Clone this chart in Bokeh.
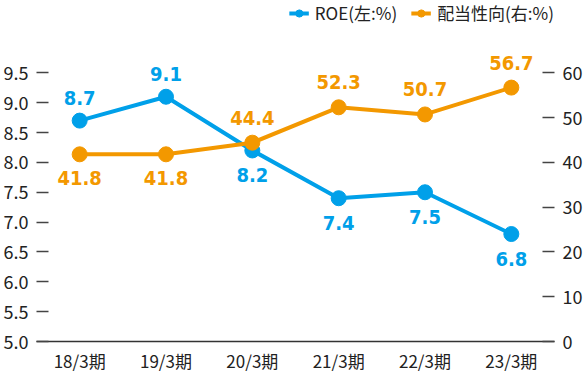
from bokeh.plotting import figure
from bokeh.models import (FactorRange, Range1d, LinearAxis, FixedTicker, Legend,
                          LegendItem, ColumnDataSource, NumeralTickFormatter)
from bokeh.core.properties import value
from bokeh.embed import file_html
from bokeh.resources import INLINE

categories = ["18/3期", "19/3期", "20/3期", "21/3期", "22/3期", "23/3期"]
roe = [8.7, 9.1, 8.2, 7.4, 7.5, 6.8]
payout = [41.8, 41.8, 44.4, 52.3, 50.7, 56.7]
roe_ticks = [5.0, 5.5, 6.0, 6.5, 7.0, 7.5, 8.0, 8.5, 9.0, 9.5]
payout_ticks = [0, 10, 20, 30, 40, 50, 60]
roe_name = "ROE(左:%)"
payout_name = "配当性向(右:%)"

BLUE = "#00a0e9"
ORANGE = "#f39800"
FONT = "Noto Sans CJK JP"
LABEL_FONT = "DejaVu Sans Condensed"

ROE_RANGE = (5.0, 10.712)
PAY_RANGE = (0.0, 76.15)

p = figure(width=585, height=375,
           x_range=FactorRange(*categories, range_padding=0),
           y_range=Range1d(*ROE_RANGE),
           output_backend="svg", toolbar_location=None,
           min_border_left=35, min_border_right=30,
           min_border_top=0, min_border_bottom=34)
p.outline_line_color = None
p.grid.visible = False
p.background_fill_color = "white"
p.extra_y_ranges = {"payout": Range1d(*PAY_RANGE)}

# label placement: the series whose point is higher on screen gets its label above
roe_frac = [(v - ROE_RANGE[0]) / (ROE_RANGE[1] - ROE_RANGE[0]) for v in roe]
pay_frac = [(v - PAY_RANGE[0]) / (PAY_RANGE[1] - PAY_RANGE[0]) for v in payout]
roe_off = [-23 if r > q else 25 for r, q in zip(roe_frac, pay_frac)]
pay_off = [-25 if q >= r else 24 for r, q in zip(roe_frac, pay_frac)]

src = ColumnDataSource(dict(
    x=categories, roe=roe, payout=payout,
    roe_text=[f"{v:.1f}" for v in roe],
    pay_text=[f"{v:.1f}" for v in payout],
    roe_off=roe_off, pay_off=pay_off,
))

l1 = p.line(x="x", y="roe", source=src, line_color=BLUE, line_width=4)
s1 = p.scatter(x="x", y="roe", source=src, size=15, fill_color=BLUE, line_color=BLUE)
l2 = p.line(x="x", y="payout", source=src, line_color=ORANGE, line_width=4,
            y_range_name="payout")
s2 = p.scatter(x="x", y="payout", source=src, size=15, fill_color=ORANGE,
               line_color=ORANGE, y_range_name="payout")

p.text(x="x", y="roe", text="roe_text", source=src, y_offset="roe_off",
       text_align="center", text_baseline="middle",
       text_font=value(LABEL_FONT), text_font_style="bold",
       text_font_size="20px", text_color=BLUE)
p.text(x="x", y="payout", text="pay_text", source=src, y_offset="pay_off",
       text_align="center", text_baseline="middle",
       text_font=value(LABEL_FONT), text_font_style="bold",
       text_font_size="20px", text_color=ORANGE, y_range_name="payout")

# left axis
ya = p.yaxis[0]
ya.ticker = FixedTicker(ticks=roe_ticks)
ya.formatter = NumeralTickFormatter(format="0.0")
ya.axis_line_color = None
ya.major_tick_in = 12
ya.major_tick_out = 0
ya.minor_tick_line_color = None
ya.minor_tick_out = 0
ya.major_tick_line_color = "#444"
ya.major_tick_line_width = 1.5
ya.major_label_standoff = 8
ya.major_label_text_font = FONT
ya.major_label_text_font_size = "18px"
ya.major_label_text_color = "#222"

# right axis
ra = LinearAxis(y_range_name="payout", ticker=FixedTicker(ticks=payout_ticks))
ra.axis_line_color = None
ra.major_tick_in = 12
ra.major_tick_out = 0
ra.minor_tick_line_color = None
ra.minor_tick_out = 0
ra.major_tick_line_color = "#444"
ra.major_tick_line_width = 1.5
ra.major_label_standoff = 8
ra.major_label_text_font = FONT
ra.major_label_text_font_size = "18px"
ra.major_label_text_color = "#222"
p.add_layout(ra, "right")

# x axis
xa = p.xaxis[0]
xa.axis_line_color = "#333"
xa.axis_line_width = 1.5
xa.major_tick_line_color = None
xa.major_tick_in = 0
xa.major_tick_out = 0
xa.minor_tick_line_color = None
xa.minor_tick_out = 0
xa.major_label_standoff = 6
xa.major_label_text_font = FONT
xa.major_label_text_font_size = "17px"
xa.major_label_text_color = "#222"

legend = Legend(items=[LegendItem(label=roe_name, renderers=[l1, s1]),
                       LegendItem(label=payout_name, renderers=[l2, s2])],
                orientation="horizontal", location="top_right")
legend.border_line_color = None
legend.background_fill_alpha = 0
legend.padding = 0
legend.margin = 0
legend.spacing = 14
legend.glyph_width = 20
legend.glyph_height = 18
legend.label_standoff = 6
legend.label_text_font = FONT
legend.label_text_font_size = "17px"
legend.label_text_color = "#222"
p.add_layout(legend)

open("out.html", "w").write(file_html(p, INLINE))
